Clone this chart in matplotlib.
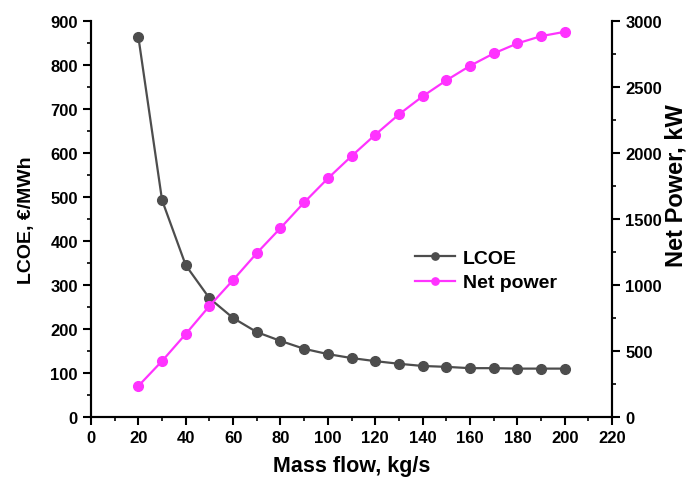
import numpy as np
import matplotlib.pyplot as plt
from matplotlib.ticker import MultipleLocator

plt.rcParams['font.family'] = ['Liberation Sans', 'DejaVu Sans']
plt.rcParams['font.weight'] = 'bold'

mass_flow = [20, 30, 40, 50, 60, 70, 80, 90, 100, 110, 120, 130, 140, 150, 160, 170, 180, 190, 200]
lcoe = [864, 493, 345, 270, 225, 193, 173, 155, 143, 134, 127, 121, 116, 114, 111, 111, 110, 110, 110]
net_power = [235, 424, 629, 841, 1038, 1242, 1432, 1626, 1808, 1977, 2139, 2293, 2430, 2551,
             2661, 2755, 2831, 2886, 2919]

fig = plt.figure(figsize=(6.92, 4.81), dpi=100)
ax = fig.add_axes([0.1315, 0.131, 0.753, 0.823])
ax2 = ax.twinx()

l1, = ax.plot(mass_flow, lcoe, '-o', color='#4d4d4d', lw=1.6, ms=7, label='LCOE')
l2, = ax2.plot(mass_flow, net_power, '-o', color='#ff33ff', lw=1.6, ms=7, label='Net power')

ax.set_xlim(0, 220)
ax.set_ylim(0, 900)
ax2.set_ylim(0, 3000)

ax.xaxis.set_major_locator(MultipleLocator(20))
ax.xaxis.set_minor_locator(MultipleLocator(10))
ax.yaxis.set_major_locator(MultipleLocator(100))
ax.yaxis.set_minor_locator(MultipleLocator(50))
ax2.yaxis.set_major_locator(MultipleLocator(500))
ax2.yaxis.set_minor_locator(MultipleLocator(250))

for a in (ax, ax2):
    a.spines['top'].set_visible(False)
    for s in a.spines.values():
        s.set_linewidth(1.5)
    a.tick_params(which='major', direction='out', length=6, width=1.5, labelsize=12)
    a.tick_params(which='minor', direction='out', length=3, width=1.2)
    for t in a.get_xticklabels() + a.get_yticklabels():
        t.set_fontweight('bold')

ax.set_xlabel('Mass flow, kg/s', fontsize=15.5, fontweight='bold')
ax.xaxis.set_label_coords(0.5, -0.097)
ax.set_ylabel('LCOE, €/MWh', fontsize=14, fontweight='bold', labelpad=11)
ax2.set_ylabel('Net Power, kW', fontsize=17, fontweight='bold')
ax2.yaxis.set_label_coords(1.1, 0.588)

ax.legend([l1, l2], ['LCOE', 'Net power'], loc='upper left', bbox_to_anchor=(0.622, 0.424),
          borderaxespad=0, borderpad=0, frameon=False, fontsize=14, markerscale=0.75,
          handlelength=2.05, handletextpad=0.4, labelspacing=0.36)

fig.savefig('out.png', dpi=100)
